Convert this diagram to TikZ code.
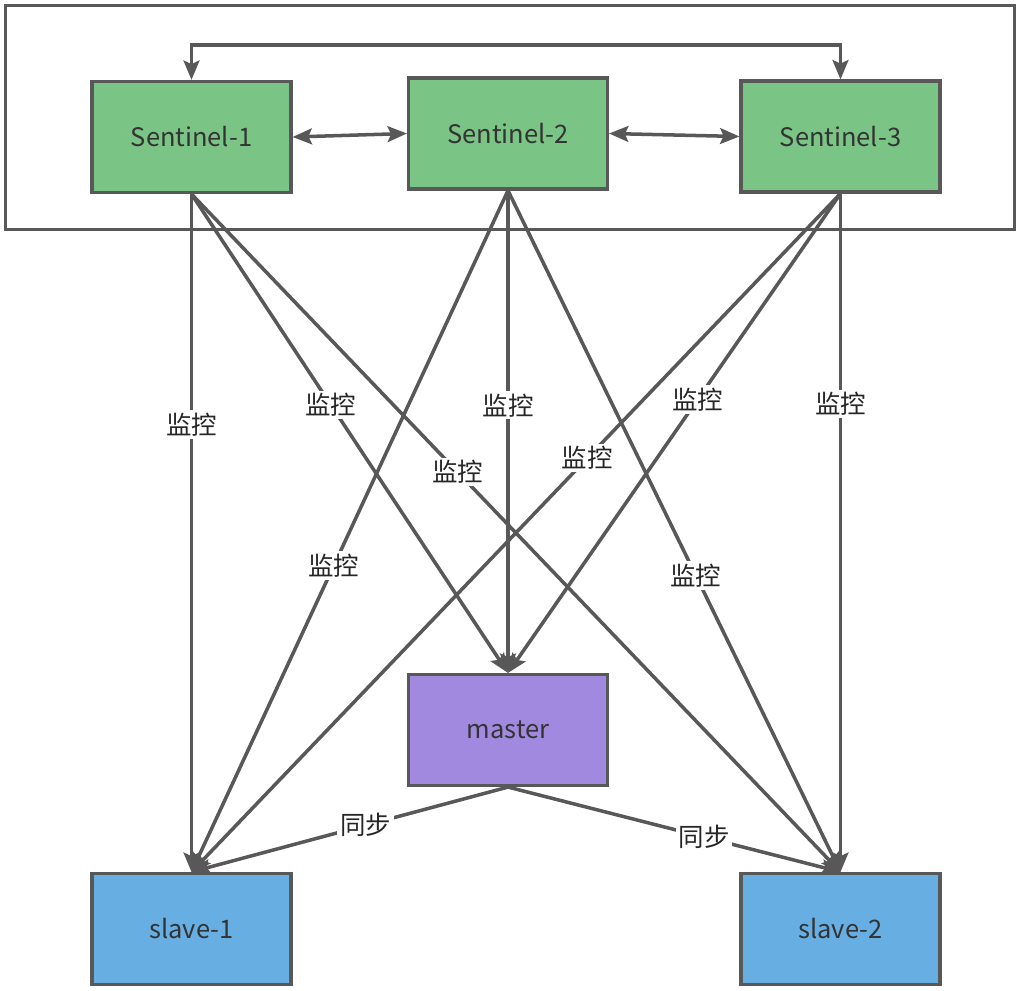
\documentclass[tikz,border=0pt]{standalone}
\usepackage{fontspec}
\setmainfont{Noto Sans CJK SC}
\usepackage{tikz}
\usetikzlibrary{arrows.meta}

\definecolor{sentgreen}{RGB}{122,196,133}
\definecolor{masterpurple}{RGB}{162,137,224}
\definecolor{slaveblue}{RGB}{103,174,226}
\definecolor{linegray}{RGB}{88,88,88}

\begin{document}
\begin{tikzpicture}[
            x = 0.02cm, y = -0.02cm, % pixel grid
            > = {Stealth[length=11pt, width=9pt, inset=2pt]}, % arrow head style
            line width = 2pt, % line style
            color = linegray,
            box/.style = {shape=rectangle, draw=linegray, line width=1.8pt,
                          minimum width=3.98cm, minimum height=2.22cm,
                          text=black!80, font=\fontsize{14.5}{16}\selectfont},
            lbl/.style = {fill=white, inner sep=1.5pt, text=black!85,
                          font=\fontsize{14.5}{16}\selectfont}
        ]
\useasboundingbox (0,0) rectangle (1022,991);

\node[draw=linegray, line width=1.8pt, minimum width=20.17cm, minimum height=4.47cm] (group) at (510,117.5) {};

\node[box, fill=sentgreen] (S1) at (191.5,137) {Sentinel-1};
\node[box, fill=sentgreen] (S2) at (508,133.5) {Sentinel-2};
\node[box, fill=sentgreen] (S3) at (840.5,136.5) {Sentinel-3};
\node[box, fill=masterpurple] (master) at (508,730) {master};
\node[box, fill=slaveblue] (slave1) at (191.5,929) {slave-1};
\node[box, fill=slaveblue] (slave2) at (840.5,929) {slave-2};

% sentinels talk to each other
 \draw [<->] (S1.north) -- ++(0,-35) -| (S3.north);
 \path [<->] (S1.east) edge (S2.west);
 \path [<->] (S2.east) edge (S3.west);

% monitoring
 \path [->] (S1.south) edge node[lbl, pos=0.34] {监控} (slave1.north);
 \path [->] (S1.south) edge node[lbl, pos=0.44] {监控} (master.north);
 \path [->] (S1.south) edge node[lbl, pos=0.41] {监控} (slave2.north);
 \path [->] (S2.south) edge node[lbl, pos=0.55] {监控} (slave1.north);
 \path [->] (S2.south) edge node[lbl, pos=0.445] {监控} (master.north);
 \path [->] (S2.south) edge node[lbl, pos=0.565] {监控} (slave2.north);
 \path [->] (S3.south) edge node[lbl, pos=0.39] {监控} (slave1.north);
 \path [->] (S3.south) edge node[lbl, pos=0.43] {监控} (master.north);
 \path [->] (S3.south) edge node[lbl, pos=0.31] {监控} (slave2.north);

% replication
 \path [->] (master.south) edge node[lbl, pos=0.45] {同步} (slave1.north);
 \path [->] (master.south) edge node[lbl, pos=0.59] {同步} (slave2.north);
\end{tikzpicture}
\end{document}
